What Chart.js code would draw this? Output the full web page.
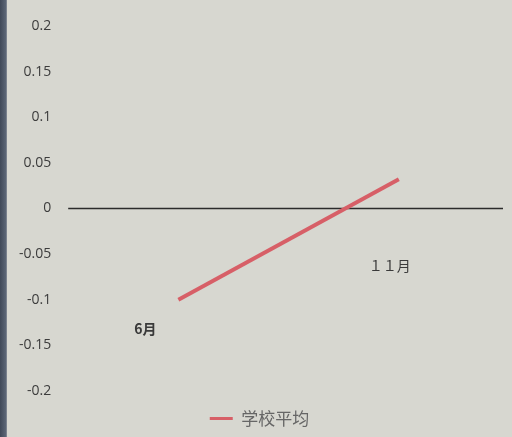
<!DOCTYPE html>
<html>
<head>
<meta charset="utf-8">
<script src="https://cdn.jsdelivr.net/npm/chart.js@4.4.1/dist/chart.umd.min.js"></script>
<style>
  html, body { margin: 0; padding: 0; }
  body {
    width: 512px; height: 437px; overflow: hidden;
    background: #d7d7d0;
    position: relative;
  }
  .edge {
    position: absolute; left: 0; top: 0; width: 7px; height: 437px;
    background: linear-gradient(to right, #3f4858, #5a6474 80%, #8a909a);
  }
  #wrap { position: absolute; left: 0; top: 0; width: 512px; height: 437px; }
</style>
</head>
<body>
<div class="edge"></div>
<div id="wrap"><canvas id="chart" width="512" height="437"></canvas></div>
<script>
const months = ['6月', '１１月'];
const schoolAvg = [-0.1, 0.032];
const yTicks = [0.2, 0.15, 0.1, 0.05, 0, -0.05, -0.1, -0.15, -0.2];

// month names sit under each point instead of on an x axis
const labelOffsets = [[-33, 29], [-9, 86]];

const monthLabels = {
  id: 'monthLabels',
  afterDatasetsDraw(chart) {
    const ctx = chart.ctx;
    const meta = chart.getDatasetMeta(0);
    ctx.save();
    ctx.textAlign = 'center';
    ctx.textBaseline = 'middle';
    meta.data.forEach((pt, i) => {
      ctx.font = i === 0 ? 'bold 14px "Noto Sans CJK SC"' : '14px "Noto Sans CJK SC"';
      ctx.fillStyle = '#3a3a3a';
      ctx.fillText(months[i], pt.x + labelOffsets[i][0], pt.y + labelOffsets[i][1]);
    });
    ctx.restore();
  }
};

// the zero line across the plot
const zeroLine = {
  id: 'zeroLine',
  beforeDatasetsDraw(chart) {
    const y = chart.scales.y.getPixelForValue(0);
    const area = chart.chartArea;
    const ctx = chart.ctx;
    ctx.save();
    ctx.strokeStyle = '#2b2b2b';
    ctx.lineWidth = 1.5;
    ctx.beginPath();
    ctx.moveTo(area.left, y);
    ctx.lineTo(area.right - 6, y);
    ctx.stroke();
    ctx.restore();
  }
};

new Chart(document.getElementById('chart'), {
  type: 'line',
  data: {
    labels: months,
    datasets: [{
      label: '学校平均',
      data: schoolAvg,
      borderColor: '#d75f67',
      backgroundColor: '#d75f67',
      borderWidth: 4,
      pointRadius: 0,
      tension: 0
    }]
  },
  options: {
    responsive: false,
    animation: false,
    layout: { padding: { left: 10, right: 3, top: 26, bottom: 0 } },
    scales: {
      x: {
        offset: true,
        display: false
      },
      y: {
        min: -0.2,
        max: 0.2,
        afterBuildTicks(axis) {
          axis.ticks = yTicks.map(v => ({ value: v }));
        },
        grid: { display: false },
        border: { display: false },
        ticks: {
          autoSkip: false,
          padding: 9,
          color: '#3c3c3c',
          font: { family: 'Open Sans', size: 14 },
          callback: v => String(v)
        }
      }
    },
    plugins: {
      legend: {
        position: 'bottom',
        labels: {
          boxWidth: 23,
          boxHeight: 3,
          padding: 19,
          color: '#666',
          font: { family: 'Noto Sans CJK SC', size: 17 },
          generateLabels(chart) {
            const items = Chart.defaults.plugins.legend.labels.generateLabels(chart);
            items.forEach(it => { it.lineWidth = 0; });
            return items;
          }
        }
      },
      tooltip: { enabled: false }
    }
  },
  plugins: [zeroLine, monthLabels]
});
</script>
</body>
</html>
